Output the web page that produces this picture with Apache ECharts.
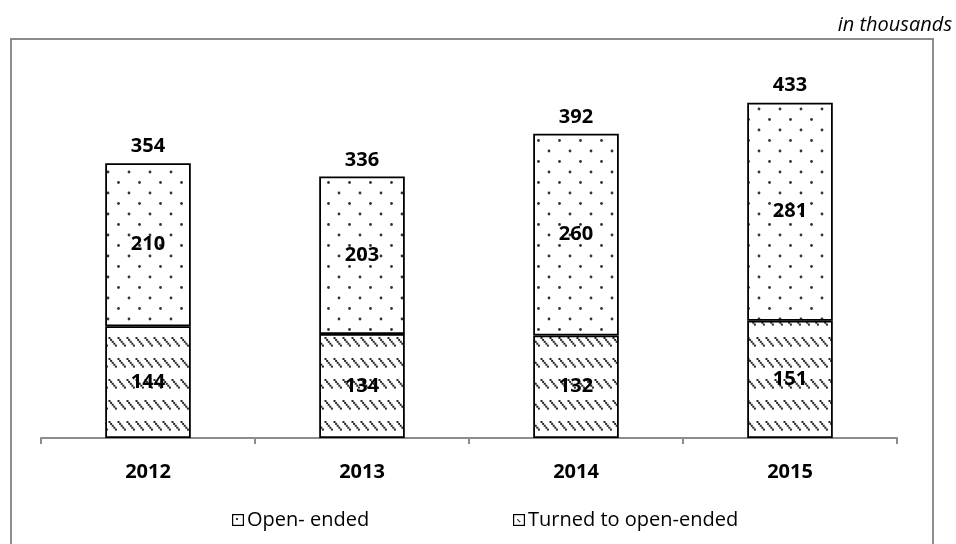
<!DOCTYPE html>
<html>
<head>
<meta charset="utf-8">
<script src="https://cdn.jsdelivr.net/npm/echarts@6/dist/echarts.min.js"></script>
<style>
  html, body { margin: 0; padding: 0; background: #fff; }
  #chart { width: 956px; height: 544px; }
</style>
</head>
<body>
<div id="chart"></div>
<script>
// Chart data (thousands)
const years = ['2012', '2013', '2014', '2015'];
const turnedToOpenEnded = [144, 134, 132, 151];
const openEnded = [210, 203, 260, 281];
const totals = [354, 336, 392, 433];
const seriesNames = ['Open- ended', 'Turned to open-ended'];

const FONT = '"Open Sans", "Noto Sans", sans-serif';
const FS = 20;

// Dotted fill: staggered grey dots
function makeDotTile() {
  const c = document.createElement('canvas');
  c.width = 21; c.height = 21;
  const g = c.getContext('2d');
  g.fillStyle = '#fff'; g.fillRect(0, 0, 21, 21);
  g.fillStyle = '#333';
  [[3, 4], [13.5, 14.5]].forEach(([x, y]) => {
    g.beginPath(); g.arc(x, y, 1.4, 0, Math.PI * 2); g.fill();
  });
  return c;
}

// Hatched fill: rows of short dotted back-slash strokes
function makeHatchTile() {
  const c = document.createElement('canvas');
  c.width = 9; c.height = 21;
  const g = c.getContext('2d');
  g.fillStyle = '#fff'; g.fillRect(0, 0, 9, 21);
  g.fillStyle = '#262626';
  for (let i = 0; i < 5; i++) {
    g.fillRect(0.5 + i * 1.6, 1 + i * 1.9, 2, 2);
  }
  return c;
}

// Small legend icons
function makeIcon(kind) {
  const c = document.createElement('canvas');
  c.width = 12; c.height = 12;
  const g = c.getContext('2d');
  g.fillStyle = '#fff'; g.fillRect(0, 0, 12, 12);
  g.strokeStyle = '#000'; g.lineWidth = 1.2;
  g.strokeRect(0.6, 0.6, 10.8, 10.8);
  g.fillStyle = '#333';
  if (kind === 'dot') {
    g.fillRect(4, 4, 2, 2);
  } else {
    for (let i = 0; i < 3; i++) g.fillRect(4 + i, 5 + i, 1.3, 1.3);
  }
  return c.toDataURL();
}

const dotPattern = { image: makeDotTile(), repeat: 'repeat' };
const hatchPattern = { image: makeHatchTile(), repeat: 'repeat' };

const labelStyle = {
  show: true,
  position: 'inside',
  color: '#000',
  fontFamily: FONT,
  fontWeight: 'bold',
  fontSize: FS
};

const chart = echarts.init(document.getElementById('chart'), null, { renderer: 'canvas' });

chart.setOption({
  animation: false,
  backgroundColor: '#fff',
  grid: { left: 41, right: 59, top: 50, bottom: 106 },
  legend: [
    {
      left: 227, top: 505,
      itemWidth: 12, itemHeight: 12, itemGap: 0,
      textStyle: { fontFamily: FONT, fontSize: FS, color: '#000', padding: [0, 0, 0, -2] },
      data: [{ name: seriesNames[0], icon: 'image://' + makeIcon('dot') }]
    },
    {
      left: 508, top: 505,
      itemWidth: 12, itemHeight: 12, itemGap: 0,
      textStyle: { fontFamily: FONT, fontSize: FS, color: '#000', padding: [0, 0, 0, -2] },
      data: [{ name: seriesNames[1], icon: 'image://' + makeIcon('hatch') }]
    }
  ],
  xAxis: {
    type: 'category',
    data: years,
    axisLine: { lineStyle: { color: '#8c8c8c', width: 2 } },
    axisTick: { show: true, length: 6, lineStyle: { color: '#8c8c8c', width: 2 } },
    axisLabel: { margin: 24, color: '#000', fontFamily: FONT, fontWeight: 'bold', fontSize: FS }
  },
  yAxis: {
    type: 'value',
    min: 0, max: 500,
    show: false,
    splitLine: { show: false }
  },
  series: [
    {
      name: seriesNames[1],
      type: 'bar',
      stack: 'total',
      barWidth: '40%',
      data: turnedToOpenEnded,
      itemStyle: { color: hatchPattern, borderColor: '#000', borderWidth: 1.8 },
      label: labelStyle
    },
    {
      name: seriesNames[0],
      type: 'bar',
      stack: 'total',
      barWidth: '40%',
      data: openEnded,
      itemStyle: { color: dotPattern, borderColor: '#000', borderWidth: 1.8 },
      label: labelStyle
    },
    {
      name: 'total',
      type: 'scatter',
      data: totals,
      symbolSize: 0,
      silent: true,
      itemStyle: { opacity: 1 },
      label: {
        show: true,
        position: 'top',
        distance: 7,
        color: '#000',
        fontFamily: FONT,
        fontWeight: 'bold',
        fontSize: FS
      }
    }
  ],
  graphic: [
    {
      type: 'rect',
      shape: { x: 11, y: 39, width: 922, height: 530 },
      style: { fill: null, stroke: '#8c8c8c', lineWidth: 2 },
      silent: true
    },
    {
      type: 'text',
      right: 4, top: 15,
      style: {
        text: 'in thousands',
        fontFamily: FONT,
        fontStyle: 'italic',
        fontSize: FS,
        fill: '#000'
      }
    }
  ]
});
</script>
</body>
</html>
